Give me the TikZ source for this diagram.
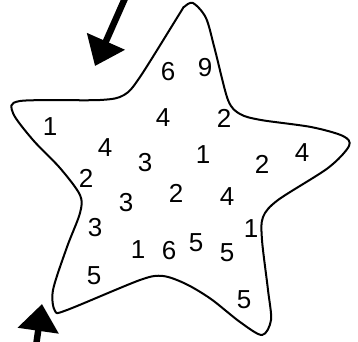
\documentclass[tikz,border=0pt]{standalone}
\usepackage{fontspec}
\setmainfont{Liberation Sans}
\usetikzlibrary{arrows.meta}

\begin{document}
\begin{tikzpicture}[x=1pt, y=-1pt, font=\fontsize{26}{26}\selectfont]
\tikzstyle{num}=[inner sep=0pt]
\tikzstyle{outline}=[line width=2pt, line join=round]
\tikzstyle{bigarrow}=[line width=6.5pt, -{Triangle[length=27pt, width=40pt]}]
\useasboundingbox (0,0) rectangle (358,341);
% star outline
\draw[outline] plot[smooth cycle, tension=0.5] coordinates {
  (193,3) (206,18) (215,50) (228,100) (240,114) (261,120) (311,127) (343,136)
  (349,146) (328,168) (278,200) (263,217) (262,240) (268,290) (271,320) (262,335)
  (240,322) (211,299) (186,284) (163,276) (140,280) (67,310) (55,311) (53,290)
  (67,247) (80,213) (80,195) (60,168) (33,140) (13,113) (20,101) (100,100)
  (124,95) (140,77) (180,13) (184,7)};
% numbers
\foreach \x/\y/\t [count=\i] in {168/72/6, 205/68/9, 50/127/1, 163/118/4, 224/118/2,
  105/148/4, 145/163/3, 203/155/1, 262/164/2, 302/153/4, 86/178/2, 176/193/2,
  227/197/4, 126/203/3, 95/228/3, 138/250/1, 169/251/6, 196/243/5, 227/253/5,
  251/229/1, 94/276/5, 244/300/5}
  {\node[num] (n\i) at (\x,\y) {\t};}
% arrows
\coordinate (a1) at (126,-4);
\coordinate (a2) at (95,66);
\coordinate (b1) at (36,346);
\coordinate (b2) at (42,304);
\draw[bigarrow] (a1) -- (a2);
\draw[bigarrow] (b1) -- (b2);
\end{tikzpicture}
\end{document}
